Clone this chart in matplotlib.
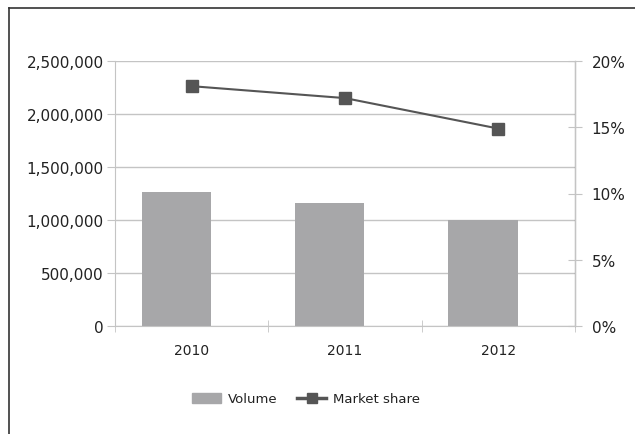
import matplotlib
matplotlib.use("Agg")
import matplotlib.pyplot as plt
from matplotlib.ticker import FuncFormatter, FixedLocator
from matplotlib.lines import Line2D

years = ["2010", "2011", "2012"]
volume = [1260000, 1160000, 1000000]
market_share = [18.1, 17.2, 14.9]

plt.rcParams['font.family'] = ['DejaVu Sans']

W, H = 635, 435
fig = plt.figure(figsize=(W / 100, H / 100), dpi=100)

left, right = 115 / W, 575 / W
bottom, top = 1 - 327 / H, 1 - 62 / H
ax = fig.add_axes([left, bottom, right - left, top - bottom])
ax2 = ax.twinx()

grid_c = "#c4c4c4"
bar_c = "#a7a7a9"
line_c = "#555555"
text_c = "#222222"

x = list(range(len(years)))
bar_x = [i - 0.1 for i in x]
ax.bar(bar_x, volume, width=0.45, color=bar_c, zorder=2)
ax.set_xlim(-0.5, 2.5)
ax.set_ylim(0, 2500000)
ax.set_yticks([0, 500000, 1000000, 1500000, 2000000, 2500000])
ax.yaxis.set_major_formatter(FuncFormatter(lambda v, p: f"{int(v):,}"))
ax.yaxis.grid(True, color=grid_c, linewidth=1, zorder=0)
ax.set_axisbelow(True)

ax.set_xticks(x)
ax.set_xticklabels(years)
ax.xaxis.set_minor_locator(FixedLocator([-0.5, 0.5, 1.5, 2.5]))
ax.tick_params(axis='x', which='major', length=0, pad=12, labelsize=10, colors=text_c)
ax.tick_params(axis='x', which='minor', length=8, direction='inout', color=grid_c)
ax.tick_params(axis='y', length=6, direction='out', color=grid_c, labelsize=11,
               labelcolor=text_c, pad=2)

for s in ['top']:
    ax.spines[s].set_visible(False)
    ax2.spines[s].set_visible(False)
for sp in [ax.spines['left'], ax.spines['bottom'], ax2.spines['right']]:
    sp.set_color(grid_c)
ax2.spines['left'].set_visible(False)
ax2.spines['bottom'].set_visible(False)

ax2.plot(x, market_share, color=line_c, linewidth=1.5, marker='s', markersize=8,
         markerfacecolor=line_c, markeredgecolor=line_c, zorder=3)
ax2.set_ylim(0, 20)
ax2.set_yticks([0, 5, 10, 15, 20])
ax2.yaxis.set_major_formatter(FuncFormatter(lambda v, p: f"{int(v)}%"))
ax2.tick_params(axis='y', length=10, direction='inout', color=grid_c, labelsize=11,
                labelcolor=text_c, pad=7)

handles = [
    plt.Rectangle((0, 0), 1, 1, color=bar_c),
    Line2D([0], [0], color=line_c, linewidth=2.5, marker='s', markersize=7),
]
fig.legend(handles, ["Volume", "Market share"], loc='center', bbox_to_anchor=(306 / W, 1 - 400 / H),
           ncol=2, frameon=False, fontsize=9.5, handlelength=2.2, handleheight=0.8,
           columnspacing=1.5, handletextpad=0.5, labelcolor=text_c)

# outer frame (cropped)
fig.add_artist(Line2D([9 / W, 9 / W], [0, 1 - 9 / H], color="#333333", linewidth=1.2,
                      transform=fig.transFigure))
fig.add_artist(Line2D([9 / W, 1], [1 - 9 / H, 1 - 9 / H], color="#333333", linewidth=1.2,
                      transform=fig.transFigure))

fig.savefig("out.png", dpi=100)
